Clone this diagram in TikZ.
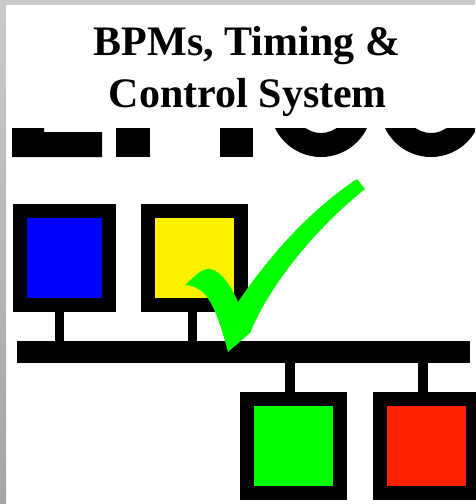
\documentclass[tikz,border=0pt]{standalone}
\usepackage{fontspec}
\setmainfont{Liberation Serif}
\definecolor{edgelight}{RGB}{202,202,202}
\definecolor{edgedark}{RGB}{165,165,165}
\definecolor{chk}{RGB}{0,255,0}
\definecolor{bred}{RGB}{255,34,0}
\tikzset{
  devbox/.style={draw=black,line width=14pt,minimum width=93pt,minimum height=94pt,inner sep=0pt},
  stub/.style={draw=black,line width=9.5pt},
  headline/.style={font=\fontsize{42}{50}\selectfont\bfseries,anchor=base,inner sep=0pt}
}

\begin{document}
\begin{tikzpicture}[x=1pt,y=-1pt]
      \useasboundingbox (0,0) rectangle (475,504);
      \fill[white] (0,0) rectangle (475,504);
      \fill[edgelight] (0,0) rectangle (475,5);%top edge
      \shade[top color=edgelight,bottom color=edgedark] (0,0) rectangle (6,504);%left edge

      \node[headline] (line1) at (247,55) {BPMs, Timing \&};
      \node[headline] (line2) at (248,107) {Control System};

      % cut off logo letters
      \begin{scope}
        \clip (0,128) rectangle (475,157);
        \fill[black] (12,128) -- (44,128) -- (44,132) -- (102,132) -- (102,157) -- (12,157) -- cycle;
        \fill[black] (116,128) rectangle (150,157);
        \fill[black] (220,128) rectangle (253,157);
        \fill[black,even odd rule] (321,106) circle (51pt) (321,106) circle (27pt);
        \fill[black,even odd rule] (431,106) circle (51pt) (431,106) circle (27pt);
      \end{scope}

      \node[devbox,fill=blue,minimum width=89pt] (blue) at (64.5,258) {};
      \node[devbox,fill=yellow] (yellow) at (194.5,258) {};
      \node[devbox,fill=chk] (green) at (293.5,446) {};
      \node[devbox,fill=bred] (red) at (426,446) {};
      \node[fill=black,minimum width=453pt,minimum height=22pt,inner sep=0pt] (bus) at (243.5,352) {};

      \draw[stub] ([xshift=-5pt]blue.south) -- ([xshift=-5pt]blue.south |- bus.north);%blue-bus
      \draw[stub] ([xshift=-2pt]yellow.south) -- ([xshift=-2pt]yellow.south |- bus.north);%yellow-bus
      \draw[stub] ([xshift=-3.5pt]green.north) -- ([xshift=-3.5pt]green.north |- bus.south);%bus-green
      \draw[stub] ([xshift=-3pt]red.north) -- ([xshift=-3pt]red.north |- bus.south);%bus-red

      % check mark
      \fill[chk] (185,285) .. controls (195,276) and (202,268) .. (210,269)
        .. controls (222,271) and (232,288) .. (238,302)
        .. controls (270,255) and (310,210) .. (357,179)
        -- (365,189)
        .. controls (320,225) and (272,280) .. (250,333)
        -- (228,352)
        .. controls (220,322) and (212,298) .. (200,290)
        .. controls (195,287) and (190,285) .. (185,285) -- cycle;
\end{tikzpicture}
\end{document}
